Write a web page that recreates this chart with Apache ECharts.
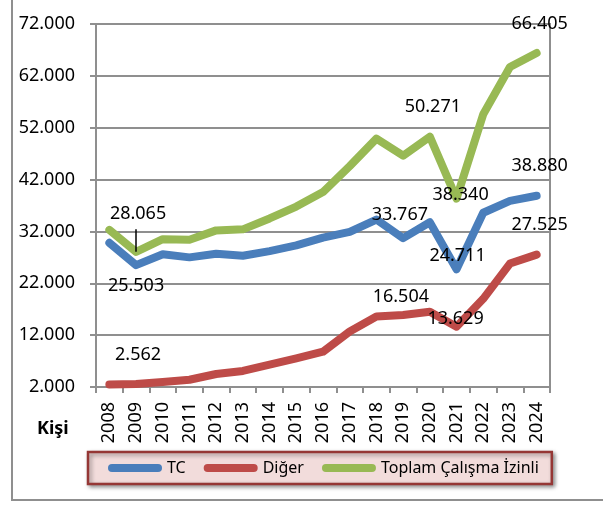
<!DOCTYPE html>
<html>
<head>
<meta charset="utf-8">
<script src="https://cdn.jsdelivr.net/npm/echarts@6/dist/echarts.min.js"></script>
<style>
  html, body { margin: 0; padding: 0; background: #fff; }
  #chart { width: 603px; height: 505px; }
</style>
</head>
<body>
<div id="chart"></div>
<script>
const years = ['2008', '2009', '2010', '2011', '2012', '2013', '2014', '2015', '2016',
  '2017', '2018', '2019', '2020', '2021', '2022', '2023', '2024']
const tcValues = [29800, 25503, 27600, 27000, 27700, 27300, 28200, 29300, 30800,
  31900, 34300, 30700, 33767, 24711, 35600, 37900, 38880]
const digerValues = [2500, 2562, 2950, 3400, 4500, 5100, 6300, 7500, 8800,
  12700, 15600, 15900, 16504, 13629, 19000, 25800, 27525]
const toplamValues = [32300, 28065, 30500, 30400, 32200, 32400, 34500, 36800, 39600,
  44600, 49900, 46600, 50271, 38340, 54600, 63700, 66405]
const yTicks = { min: 2000, max: 72000, step: 10000 }
const seriesNames = ['TC', 'Diğer', 'Toplam Çalışma İzinli']
const colors = ['#4a7ebb', '#be4b48', '#98b954']

// label offsets (px from the point) for the years that carry a value label
const tcLabels = { 1: [0, 21], 12: [-30, -7], 13: [1, -13], 16: [3, -30] }
const digerLabels = { 1: [2, -29], 12: [-29, -15], 13: [-1, -8], 16: [3, -30] }
const toplamLabels = { 1: [2, -38], 12: [3, -30], 13: [4, -4], 16: [3, -29] }

const fmt = (v) => String(v).replace(/\B(?=(\d{3})+(?!\d))/g, '.')
const FONT = 'Noto Sans'

const makeData = (values, labels) => values.map((v, i) => {
  const off = labels[i]
  if (!off) return v
  return {
    value: v,
    label: {
      show: true,
      position: 'inside',
      offset: off,
      formatter: (p) => fmt(p.value),
      color: '#000',
      fontSize: 18,
      fontFamily: FONT,
    },
  }
})

const pill = 'path://M4,0 L50,0 A4,4 0 0 1 50,8 L4,8 A4,4 0 0 1 4,0 Z'

const lineSeries = (name, values, labels, color, extra) => Object.assign({
  name,
  type: 'line',
  data: makeData(values, labels),
  symbol: 'circle',
  symbolSize: 1,
  showSymbol: true,
  itemStyle: { color },
  lineStyle: { color, width: 8, cap: 'round', join: 'round' },
  label: { show: false },
  emphasis: { disabled: true },
}, extra)

const chart = echarts.init(document.getElementById('chart'))
chart.setOption({
  animation: false,
  textStyle: { fontFamily: FONT },
  grid: {
    left: 96, top: 24, right: 53, bottom: 118,
    containLabel: false,
    show: true, borderColor: '#8f8f8f', borderWidth: 2, backgroundColor: 'transparent',
  },
  xAxis: {
    type: 'category',
    data: years,
    boundaryGap: true,
    axisLine: { lineStyle: { color: '#8f8f8f', width: 2 } },
    axisTick: { show: true, length: 6, interval: 0, lineStyle: { color: '#8f8f8f', width: 2 } },
    axisLabel: { rotate: 90, margin: 15, interval: 0, color: '#000', fontSize: 18, fontFamily: FONT },
  },
  yAxis: {
    type: 'value',
    min: yTicks.min,
    max: yTicks.max,
    interval: yTicks.step,
    axisLine: { show: true, lineStyle: { color: '#8f8f8f', width: 2 } },
    axisTick: { show: true, length: 6, lineStyle: { color: '#8f8f8f', width: 2 } },
    splitLine: { lineStyle: { color: '#8f8f8f', width: 2 } },
    axisLabel: { margin: 21, color: '#000', fontSize: 18, fontFamily: FONT, formatter: fmt },
  },
  legend: {
    left: 88,
    top: 452,
    padding: [8, 13, 8, 20],
    itemGap: 18,
    itemWidth: 54,
    itemHeight: 8,
    icon: pill,
    backgroundColor: '#f2dcdb',
    borderColor: '#953735',
    borderWidth: 2.5,
    shadowBlur: 4,
    shadowOffsetX: 2,
    shadowOffsetY: 2,
    shadowColor: 'rgba(0,0,0,0.4)',
    textStyle: { color: '#000', fontSize: 16, fontFamily: FONT },
    data: seriesNames,
  },
  graphic: [
    {
      type: 'rect',
      silent: true,
      shape: { x: 12, y: -10, width: 620, height: 510 },
      style: { fill: 'none', stroke: '#8f8f8f', lineWidth: 2 },
    },
    {
      type: 'text',
      left: 37,
      top: 420,
      style: { text: 'Kişi', fontSize: 18, fontWeight: 'bold', fontFamily: FONT, fill: '#000' },
    },
  ],
  series: [
    lineSeries(seriesNames[0], tcValues, tcLabels, colors[0]),
    lineSeries(seriesNames[1], digerValues, digerLabels, colors[1]),
    lineSeries(seriesNames[2], toplamValues, toplamLabels, colors[2], {
      markLine: {
        silent: true,
        symbol: 'none',
        animation: false,
        label: { show: false },
        lineStyle: { color: '#000', width: 1.5, type: 'solid' },
        data: [[{ coord: [years[1], toplamValues[1]] }, { coord: [years[1], 32400] }]],
      },
    }),
  ],
})
</script>
</body>
</html>
